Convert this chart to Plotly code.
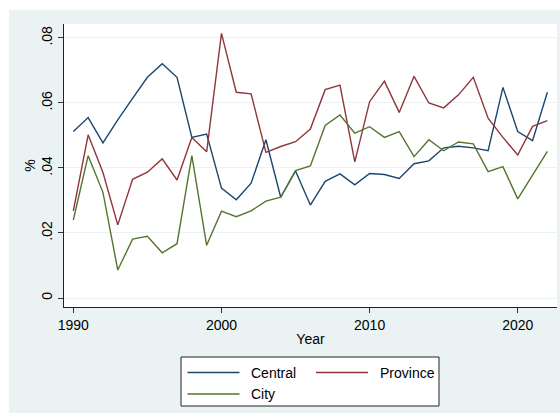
import plotly.graph_objects as go

# Annual shares by level of government
years = list(range(1990, 2023))
central = [0.0512, 0.0555, 0.0477, 0.0548, 0.0614, 0.0679, 0.0721, 0.0679, 0.0494, 0.0504,
           0.0338, 0.0302, 0.0353, 0.0487, 0.0310, 0.0391, 0.0286, 0.0359, 0.0382, 0.0348,
           0.0383, 0.0380, 0.0368, 0.0413, 0.0422, 0.0462, 0.0467, 0.0462, 0.0453, 0.0648,
           0.0512, 0.0484, 0.0633]
province = [0.0268, 0.0502, 0.0386, 0.0225, 0.0365, 0.0387, 0.0428, 0.0363, 0.0494, 0.0450,
            0.0814, 0.0633, 0.0628, 0.0448, 0.0466, 0.0481, 0.0520, 0.0641, 0.0655, 0.0419,
            0.0604, 0.0667, 0.0571, 0.0682, 0.0600, 0.0585, 0.0625, 0.0679, 0.0553, 0.0494,
            0.0440, 0.0528, 0.0546]
city = [0.0240, 0.0438, 0.0325, 0.0086, 0.0181, 0.0190, 0.0139, 0.0167, 0.0438, 0.0162,
        0.0267, 0.0250, 0.0268, 0.0298, 0.0310, 0.0392, 0.0406, 0.0531, 0.0563, 0.0507,
        0.0527, 0.0494, 0.0512, 0.0435, 0.0487, 0.0453, 0.0480, 0.0474, 0.0389, 0.0404,
        0.0305, 0.0378, 0.0451]

series_names = ["Central", "Province", "City"]
series_colors = ["#1a476f", "#90353b", "#55752f"]

y_tickvals = [0, 0.02, 0.04, 0.06, 0.08]
y_ticktext = ["0", ".02", ".04", ".06", ".08"]
x_tickvals = [1990, 2000, 2010, 2020]

W, H = 560, 413
L, R, T, B = 64, 3, 24, 106
pw, ph = W - L - R, H - T - B
BG = "#eaf2f3"
FONT = "Liberation Sans, Arial, sans-serif"


def px(x):
    return (x - L) / pw


def py(y):
    return (H - B - y) / ph


fig = go.Figure()
for name, vals, col in zip(series_names, [central, province, city], series_colors):
    fig.add_trace(go.Scatter(x=years, y=vals, name=name, mode="lines",
                             line=dict(color=col, width=1.4), showlegend=False))

shapes = [
    # white margin strips around the graph region
    dict(type="rect", xref="paper", yref="paper", x0=px(-5), x1=px(565), y0=py(10), y1=py(-5),
         fillcolor="white", line=dict(width=0)),
    dict(type="rect", xref="paper", yref="paper", x0=px(-5), x1=px(9), y0=py(420), y1=py(-5),
         fillcolor="white", line=dict(width=0)),
    # legend box
    dict(type="rect", xref="paper", yref="paper", x0=px(181), x1=px(439), y0=py(406), y1=py(357),
         fillcolor="white", line=dict(color="#222", width=1)),
]
annotations = []
legend_items = [(187.5, 372.5), (316, 372.5), (187.5, 394)]
for (lx, ly), name, col in zip(legend_items, series_names, series_colors):
    shapes.append(dict(type="line", xref="paper", yref="paper", x0=px(lx), x1=px(lx + 52),
                       y0=py(ly), y1=py(ly), line=dict(color=col, width=1.4)))
    annotations.append(dict(xref="paper", yref="paper", x=px(lx + 61.5), y=py(ly), text=name,
                            showarrow=False, xanchor="left", yanchor="middle",
                            font=dict(family=FONT, size=14, color="black")))

fig.update_layout(
    width=W, height=H,
    margin=dict(l=L, r=R, t=T, b=B),
    paper_bgcolor=BG, plot_bgcolor="white",
    font=dict(family=FONT, size=14, color="black"),
    shapes=shapes, annotations=annotations,
    showlegend=False,
    xaxis=dict(range=[1989.37, 2022.65], tickvals=x_tickvals, ticks="outside", ticklen=5,
               tickcolor="#333", showline=True, linecolor="#222", linewidth=1,
               showgrid=False, zeroline=False,
               title=dict(text="Year", standoff=2, font=dict(size=14)),
               tickfont=dict(size=14)),
    yaxis=dict(range=[-0.00277, 0.0843], tickvals=y_tickvals, ticktext=y_ticktext,
               tickangle=-90, ticks="outside", ticklen=5, tickcolor="#333",
               showline=True, linecolor="#222", linewidth=1,
               showgrid=True, gridcolor=BG, gridwidth=1, zeroline=False,
               title=dict(text="%", standoff=0, font=dict(size=14)),
               tickfont=dict(size=14)),
)

fig.write_html("out.html")
